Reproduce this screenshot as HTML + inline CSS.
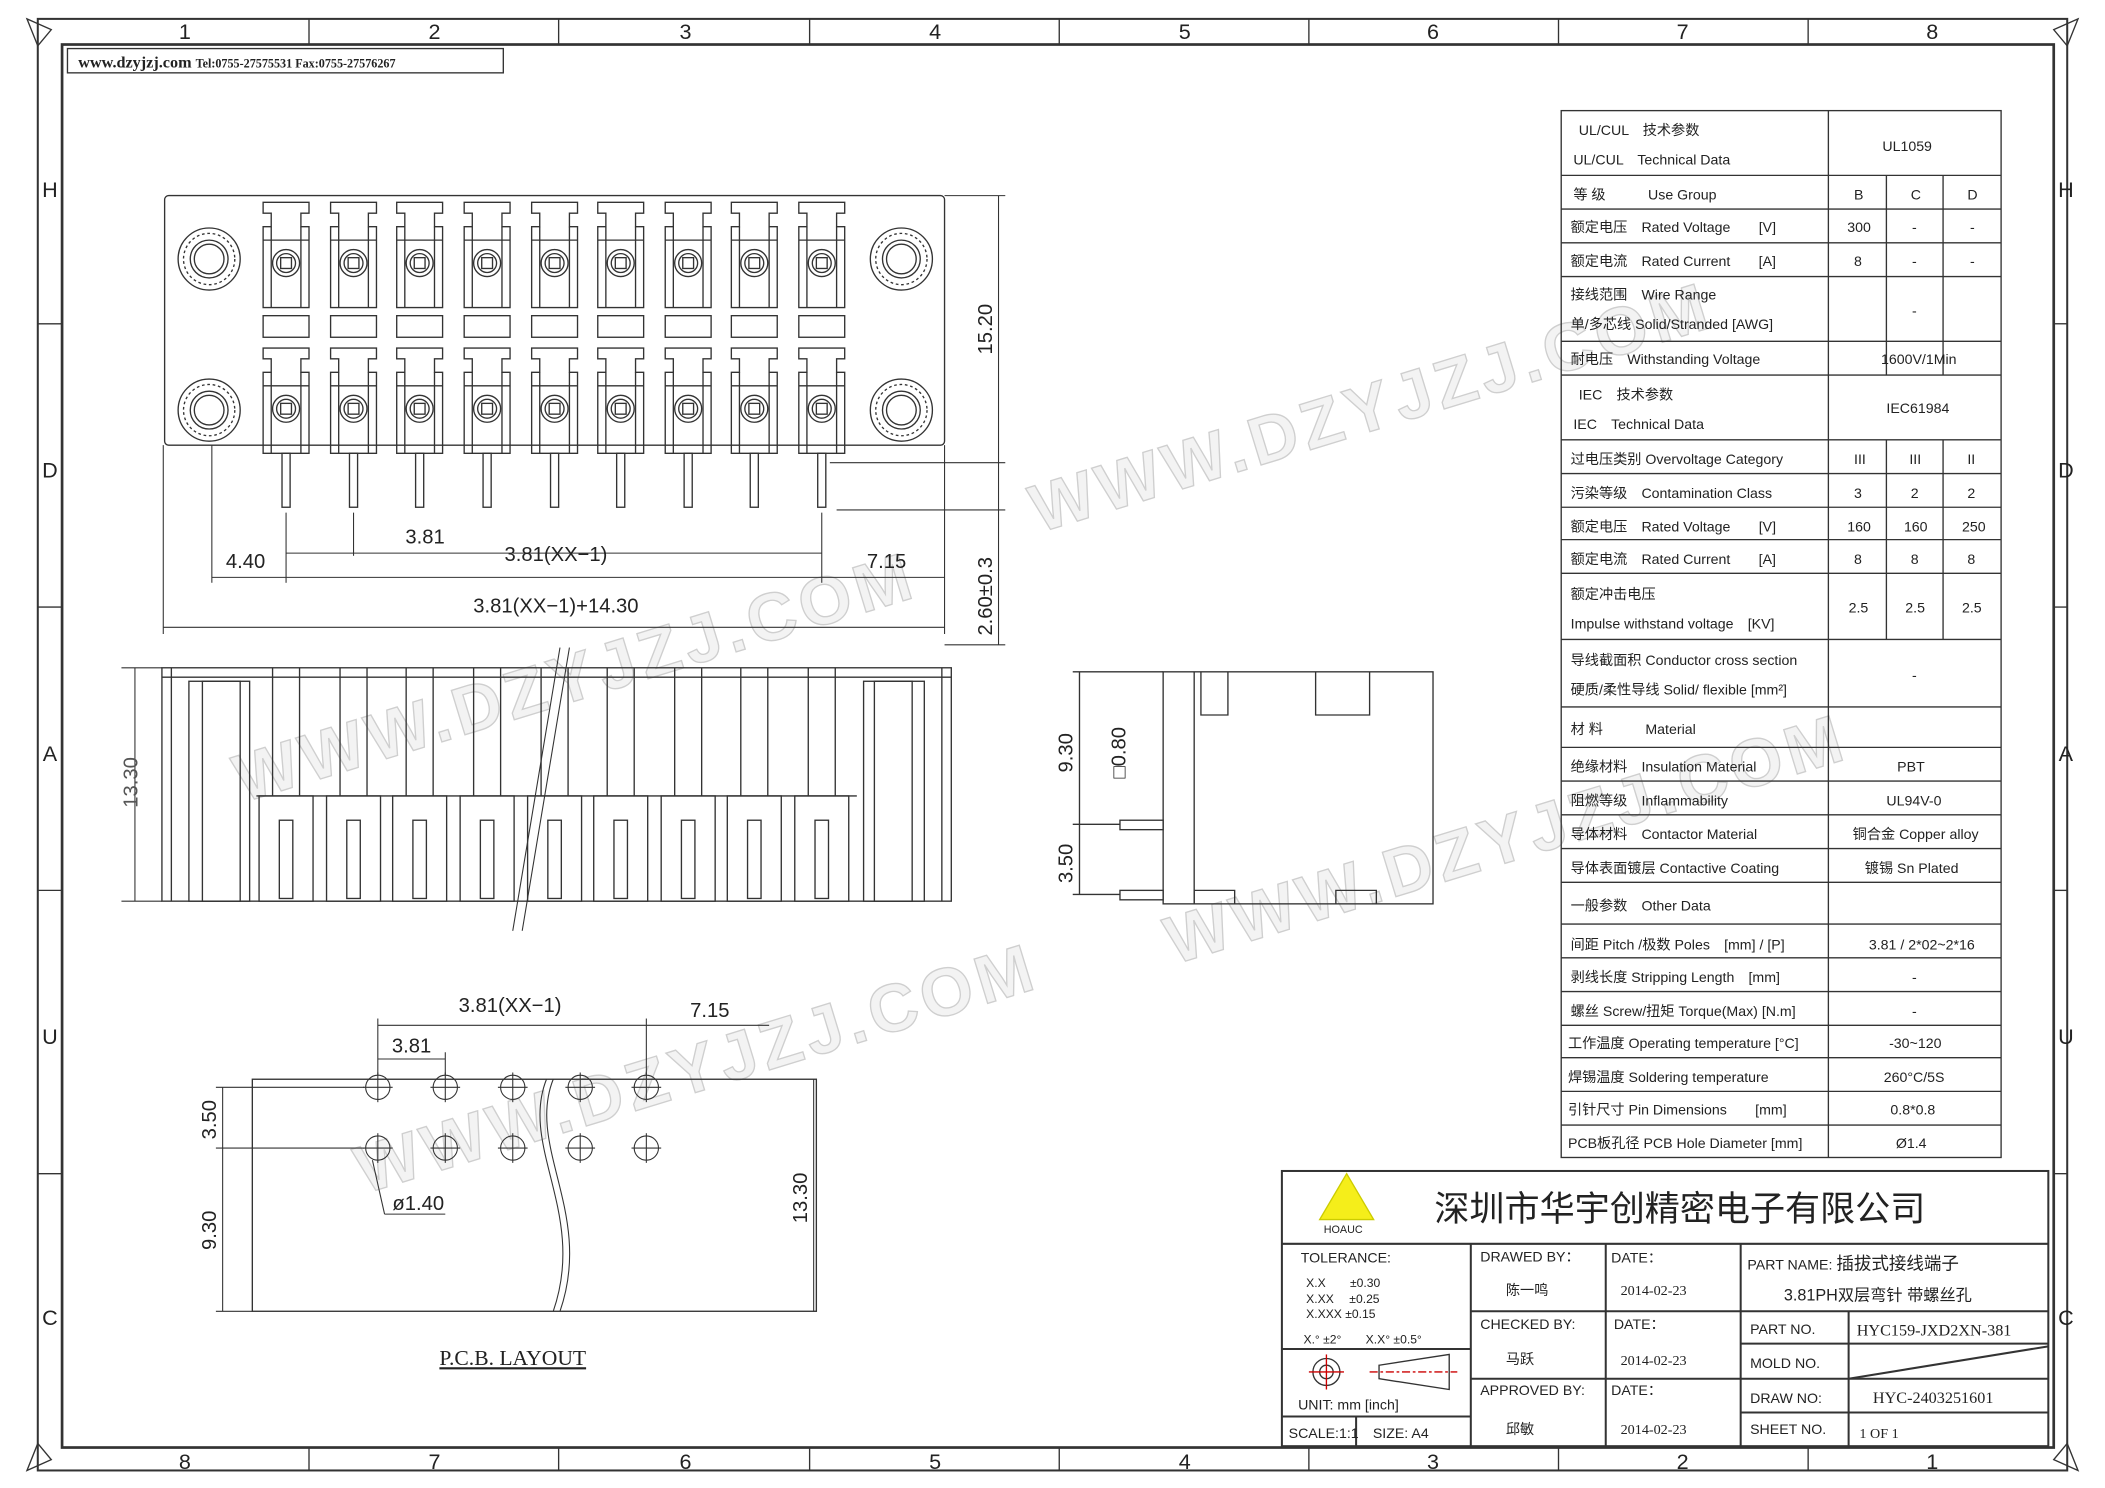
<!DOCTYPE html>
<html><head><meta charset="utf-8"><style>
html,body{margin:0;padding:0;background:#fff;}
svg{display:block;}
text{font-family:"Liberation Sans","Noto Sans CJK SC",sans-serif;fill:#222;}
.t{font-size:10.5px;}
.d{font-size:15px;fill:#555;}
text.wm{fill:#f3f3f3;stroke:#cfcfcf;stroke-width:1;font-size:50px;font-weight:bold;letter-spacing:4px;}
</style></head><body>
<svg width="2105" height="1488" viewBox="0 0 1560 1103" preserveAspectRatio="none" xmlns="http://www.w3.org/2000/svg">
<defs>
<g id="term" fill="none" stroke="#333" stroke-width="1">
  <path d="M-17,0 h34 v8 h-6 v10 h6 v60 h-34 v-60 h6 v-10 h-6z"/>
  <line x1="-11" y1="18" x2="-11" y2="78"/><line x1="11" y1="18" x2="11" y2="78"/>
  <circle cx="0" cy="45" r="10"/><circle cx="0" cy="45" r="7"/><rect x="-4" y="41" width="8" height="8"/>
  <line x1="-17" y1="28" x2="17" y2="28"/>
</g>
<g id="col">
  <use href="#term" y="150"/>
  <rect x="-17" y="234" width="34" height="16" fill="none" stroke="#333"/>
  <use href="#term" y="258"/>
  <rect x="-3" y="336" width="6" height="40" fill="none" stroke="#333"/>
</g>
<g id="fr" fill="none" stroke="#333">
  <rect x="-20" y="590" width="40" height="78"/>
  <rect x="-5" y="608" width="10" height="58"/>
  <line x1="-10" y1="495" x2="-10" y2="590"/><line x1="10" y1="495" x2="10" y2="590"/>
</g>
<g id="mh" fill="none" stroke="#333"><circle r="23"/><circle r="19" stroke-dasharray="2 2"/><circle r="14"/><circle r="11"/></g>
</defs>
<rect width="1560" height="1103" fill="#fff"/>
<!-- watermark -->
<text class="wm" transform="translate(770,395) rotate(-17)">WWW.DZYJZJ.COM</text>
<text class="wm" transform="translate(180,595) rotate(-17)">WWW.DZYJZJ.COM</text>
<text class="wm" transform="translate(870,715) rotate(-17)">WWW.DZYJZJ.COM</text>
<text class="wm" transform="translate(270,885) rotate(-17)">WWW.DZYJZJ.COM</text>
<!-- borders -->
<rect x="28" y="14" width="1504" height="1076" fill="none" stroke="#333" stroke-width="1.5"/>
<rect x="46" y="33" width="1476" height="1040" fill="none" stroke="#333" stroke-width="2"/>
<g stroke="#333">
<line x1="229" y1="14" x2="229" y2="33"/><line x1="414" y1="14" x2="414" y2="33"/><line x1="600" y1="14" x2="600" y2="33"/><line x1="785" y1="14" x2="785" y2="33"/><line x1="970" y1="14" x2="970" y2="33"/><line x1="1155" y1="14" x2="1155" y2="33"/><line x1="1340" y1="14" x2="1340" y2="33"/>
<line x1="229" y1="1073" x2="229" y2="1090"/><line x1="414" y1="1073" x2="414" y2="1090"/><line x1="600" y1="1073" x2="600" y2="1090"/><line x1="785" y1="1073" x2="785" y2="1090"/><line x1="970" y1="1073" x2="970" y2="1090"/><line x1="1155" y1="1073" x2="1155" y2="1090"/><line x1="1340" y1="1073" x2="1340" y2="1090"/>
<line x1="28" y1="240" x2="46" y2="240"/><line x1="28" y1="450" x2="46" y2="450"/><line x1="28" y1="660" x2="46" y2="660"/><line x1="28" y1="870" x2="46" y2="870"/>
<line x1="1522" y1="240" x2="1532" y2="240"/><line x1="1522" y1="450" x2="1532" y2="450"/><line x1="1522" y1="660" x2="1532" y2="660"/><line x1="1522" y1="870" x2="1532" y2="870"/>
</g>
<g fill="none" stroke="#333"><path d="M20,14 L38,22 L28,34z"/><path d="M1540,14 L1522,22 L1532,34z"/><path d="M20,1090 L38,1082 L28,1070z"/><path d="M1540,1090 L1522,1082 L1532,1070z"/></g>
<g font-size="16" text-anchor="middle">
<text x="137" y="29">1</text><text x="322" y="29">2</text><text x="508" y="29">3</text><text x="693" y="29">4</text><text x="878" y="29">5</text><text x="1062" y="29">6</text><text x="1247" y="29">7</text><text x="1432" y="29">8</text>
<text x="137" y="1089">8</text><text x="322" y="1089">7</text><text x="508" y="1089">6</text><text x="693" y="1089">5</text><text x="878" y="1089">4</text><text x="1062" y="1089">3</text><text x="1247" y="1089">2</text><text x="1432" y="1089">1</text>
<text x="37" y="146">H</text><text x="37" y="354">D</text><text x="37" y="564">A</text><text x="37" y="774">U</text><text x="37" y="982">C</text>
<text x="1531" y="146">H</text><text x="1531" y="354">D</text><text x="1531" y="564">A</text><text x="1531" y="774">U</text><text x="1531" y="982">C</text>
</g>
<rect x="50" y="36" width="323" height="18" fill="none" stroke="#333"/>
<text x="58" y="50" font-size="12" font-weight="bold" style="font-family:'Liberation Serif',serif">www.dzyjzj.com <tspan font-size="9">Tel:0755-27575531  Fax:0755-27576267</tspan></text>

<!-- top view -->
<rect x="122" y="145" width="578" height="185" rx="3" fill="none" stroke="#333"/>
<use href="#mh" x="155" y="192"/><use href="#mh" x="155" y="304"/><use href="#mh" x="668" y="192"/><use href="#mh" x="668" y="304"/>
<use href="#col" x="212"/><use href="#col" x="262"/><use href="#col" x="311"/><use href="#col" x="361"/><use href="#col" x="411"/><use href="#col" x="460"/><use href="#col" x="510"/><use href="#col" x="559"/><use href="#col" x="609"/>
<g stroke="#333" fill="none" stroke-width="0.8">
<line x1="700" y1="145" x2="745" y2="145"/><line x1="615" y1="343" x2="745" y2="343"/><line x1="620" y1="378" x2="745" y2="378"/><line x1="700" y1="478" x2="745" y2="478"/>
<line x1="740" y1="145" x2="740" y2="478"/>
<line x1="157" y1="330" x2="157" y2="432"/><line x1="212" y1="380" x2="212" y2="432"/><line x1="262" y1="380" x2="262" y2="412"/><line x1="609" y1="380" x2="609" y2="432"/><line x1="700" y1="330" x2="700" y2="470"/><line x1="121" y1="330" x2="121" y2="470"/>
<line x1="157" y1="428" x2="700" y2="428"/><line x1="212" y1="410" x2="609" y2="410"/><line x1="121" y1="465" x2="700" y2="465"/>
</g>
<g class="d" text-anchor="middle">
<text x="182" y="421">4.40</text><text x="315" y="403">3.81</text><text x="412" y="416">3.81(XX−1)</text><text x="657" y="421">7.15</text><text x="412" y="454">3.81(XX−1)+14.30</text>
<text transform="translate(735,244) rotate(-90)">15.20</text><text transform="translate(735,442) rotate(-90)">2.60±0.3</text>
</g>

<!-- front view -->
<rect x="120" y="495" width="585" height="173" fill="none" stroke="#333"/>
<g stroke="#333" fill="none">
<line x1="120" y1="502" x2="705" y2="502"/><line x1="127" y1="495" x2="127" y2="668"/><line x1="698" y1="495" x2="698" y2="668"/>
<rect x="140" y="505" width="45" height="163"/><rect x="150" y="505" width="28" height="163"/>
<rect x="640" y="505" width="45" height="163"/><rect x="648" y="505" width="28" height="163"/>
<line x1="190" y1="590" x2="635" y2="590"/>
</g>
<use href="#fr" x="212"/><use href="#fr" x="262"/><use href="#fr" x="311"/><use href="#fr" x="361"/><use href="#fr" x="411"/><use href="#fr" x="460"/><use href="#fr" x="510"/><use href="#fr" x="559"/><use href="#fr" x="609"/>
<g stroke="#333" stroke-width="0.8"><line x1="90" y1="495" x2="120" y2="495"/><line x1="90" y1="668" x2="120" y2="668"/><line x1="100" y1="495" x2="100" y2="668"/>
<line x1="380" y1="690" x2="415" y2="480"/><line x1="387" y1="690" x2="422" y2="480"/></g>
<text class="d" transform="translate(102,580) rotate(-90)" text-anchor="middle">13.30</text>

<!-- side view -->
<g stroke="#333" fill="none">
<rect x="862" y="498" width="200" height="172"/><line x1="885" y1="498" x2="885" y2="670"/>
<path d="M890,498 v32 h20 v-32"/><path d="M975,498 v32 h40 v-32"/>
<path d="M885,670 v-10 h30 v10"/><path d="M990,670 v-10 h30 v10"/>
<rect x="830" y="608" width="32" height="7"/><rect x="830" y="660" width="32" height="7"/>
<line x1="795" y1="498" x2="862" y2="498"/><line x1="795" y1="611" x2="830" y2="611"/><line x1="795" y1="663" x2="830" y2="663"/><line x1="800" y1="498" x2="800" y2="663"/>
</g>
<g class="d" text-anchor="middle"><text transform="translate(795,558) rotate(-90)">9.30</text><text transform="translate(795,640) rotate(-90)">3.50</text><text transform="translate(834,558) rotate(-90)">□0.80</text></g>

<!-- PCB layout -->
<rect x="187" y="800" width="418" height="172" fill="none" stroke="#333"/>
<g stroke="#333" fill="none" stroke-width="0.8">
<path d="M410,800 C390,850 440,900 415,972"/><path d="M405,800 C385,850 435,900 410,972"/>
<g id="h"><circle cx="280" cy="806" r="9"/><circle cx="280" cy="851" r="9"/><line x1="269" y1="806" x2="291" y2="806"/><line x1="280" y1="795" x2="280" y2="817"/><line x1="269" y1="851" x2="291" y2="851"/><line x1="280" y1="840" x2="280" y2="862"/></g>
<use href="#h" x="50"/><use href="#h" x="100"/><use href="#h" x="150"/><use href="#h" x="199"/>
<line x1="280" y1="755" x2="280" y2="797"/><line x1="330" y1="780" x2="330" y2="797"/><line x1="479" y1="755" x2="479" y2="797"/>
<line x1="280" y1="760" x2="570" y2="760"/><line x1="280" y1="785" x2="330" y2="785"/>
<line x1="160" y1="806" x2="270" y2="806"/><line x1="160" y1="851" x2="270" y2="851"/><line x1="160" y1="972" x2="187" y2="972"/><line x1="165" y1="806" x2="165" y2="972"/>
<line x1="603" y1="800" x2="603" y2="972"/>
<line x1="276" y1="860" x2="285" y2="900"/><line x1="285" y1="900" x2="330" y2="900"/>
</g>
<g class="d" text-anchor="middle">
<text x="378" y="750">3.81(XX−1)</text><text x="526" y="754">7.15</text><text x="305" y="780">3.81</text><text x="310" y="897">ø1.40</text>
<text transform="translate(160,830) rotate(-90)">3.50</text><text transform="translate(160,912) rotate(-90)">9.30</text><text transform="translate(598,888) rotate(-90)">13.30</text>
</g>
<text x="380" y="1012" text-anchor="middle" font-size="16" style="font-family:'Liberation Serif',serif" text-decoration="underline">P.C.B. LAYOUT</text>

<!-- spec table -->
<g stroke="#333" fill="none">
<rect x="1157" y="82" width="326" height="776"/>
<line x1="1355" y1="82" x2="1355" y2="858"/>
<path d="M1398,130 V278 M1440,130 V278 M1398,326 V474 M1440,326 V474"/>
<path d="M1157,130H1483 M1157,155H1483 M1157,180H1483 M1157,205H1483 M1157,253H1483 M1157,278H1483 M1157,326H1483 M1157,351H1483 M1157,376H1483 M1157,400H1483 M1157,425H1483 M1157,474H1483 M1157,524H1483 M1157,554H1483 M1157,579H1483 M1157,604H1483 M1157,629H1483 M1157,654H1483 M1157,685H1483 M1157,710H1483 M1157,735H1483 M1157,760H1483 M1157,784H1483 M1157,809H1483 M1157,834H1483"/>
</g>
<g class="t">
<text x="1170" y="100">UL/CUL　技术参数</text><text x="1166" y="122">UL/CUL　Technical Data</text><text x="1395" y="112">UL1059</text>
<text x="1166" y="148">等 级　　　Use Group</text><text x="1374" y="148">B</text><text x="1416" y="148">C</text><text x="1458" y="148">D</text>
<text x="1164" y="172">额定电压　Rated Voltage　　[V]</text><text x="1369" y="172">300</text><text x="1417" y="172">-</text><text x="1460" y="172">-</text>
<text x="1164" y="197">额定电流　Rated Current　　[A]</text><text x="1374" y="197">8</text><text x="1417" y="197">-</text><text x="1460" y="197">-</text>
<text x="1164" y="222">接线范围　Wire Range</text><text x="1164" y="244">单/多芯线 Solid/Stranded [AWG]</text><text x="1417" y="234">-</text>
<text x="1164" y="270">耐电压　Withstanding Voltage</text><text x="1394" y="270">1600V/1Min</text>
<text x="1170" y="296">IEC　技术参数</text><text x="1166" y="318">IEC　Technical Data</text><text x="1398" y="306">IEC61984</text>
<text x="1164" y="344">过电压类别 Overvoltage Category</text><text x="1374" y="344">III</text><text x="1415" y="344">III</text><text x="1458" y="344">II</text>
<text x="1164" y="369">污染等级　Contamination Class</text><text x="1374" y="369">3</text><text x="1416" y="369">2</text><text x="1458" y="369">2</text>
<text x="1164" y="394">额定电压　Rated Voltage　　[V]</text><text x="1369" y="394">160</text><text x="1411" y="394">160</text><text x="1454" y="394">250</text>
<text x="1164" y="418">额定电流　Rated Current　　[A]</text><text x="1374" y="418">8</text><text x="1416" y="418">8</text><text x="1458" y="418">8</text>
<text x="1164" y="444">额定冲击电压</text><text x="1164" y="466">Impulse withstand voltage　[KV]</text><text x="1370" y="454">2.5</text><text x="1412" y="454">2.5</text><text x="1454" y="454">2.5</text>
<text x="1164" y="493">导线截面积 Conductor cross section</text><text x="1164" y="515">硬质/柔性导线 Solid/ flexible [mm²]</text><text x="1417" y="504">-</text>
<text x="1164" y="544">材 料　　　Material</text>
<text x="1164" y="572">绝缘材料　Insulation Material</text><text x="1406" y="572">PBT</text>
<text x="1164" y="597">阻燃等级　Inflammability</text><text x="1398" y="597">UL94V-0</text>
<text x="1164" y="622">导体材料　Contactor Material</text><text x="1373" y="622">铜合金 Copper alloy</text>
<text x="1164" y="647">导体表面镀层 Contactive Coating</text><text x="1382" y="647">镀锡 Sn Plated</text>
<text x="1164" y="675">一般参数　Other Data</text>
<text x="1164" y="704">间距 Pitch /极数 Poles　[mm] / [P]</text><text x="1385" y="704">3.81 / 2*02~2*16</text>
<text x="1164" y="728">剥线长度 Stripping Length　[mm]</text><text x="1417" y="728">-</text>
<text x="1164" y="753">螺丝 Screw/扭矩 Torque(Max) [N.m]</text><text x="1417" y="753">-</text>
<text x="1162" y="777">工作温度 Operating temperature [°C]</text><text x="1400" y="777">-30~120</text>
<text x="1162" y="802">焊锡温度 Soldering temperature</text><text x="1396" y="802">260°C/5S</text>
<text x="1162" y="826">引针尺寸 Pin Dimensions　　[mm]</text><text x="1401" y="826">0.8*0.8</text>
<text x="1162" y="851">PCB板孔径 PCB Hole Diameter [mm]</text><text x="1405" y="851">Ø1.4</text>
</g>

<!-- title block -->
<g stroke="#333" fill="none" stroke-width="1.5">
<rect x="950" y="868" width="568" height="204"/>
<line x1="950" y1="922" x2="1518" y2="922"/>
<line x1="1090" y1="922" x2="1090" y2="1072"/><line x1="1190" y1="922" x2="1190" y2="1072"/><line x1="1290" y1="922" x2="1290" y2="1072"/>
<line x1="1090" y1="972" x2="1290" y2="972"/><line x1="1090" y1="1022" x2="1290" y2="1022"/>
<line x1="1290" y1="972" x2="1518" y2="972"/><line x1="1290" y1="996" x2="1518" y2="996"/><line x1="1290" y1="1022" x2="1518" y2="1022"/><line x1="1290" y1="1047" x2="1518" y2="1047"/>
<line x1="1370" y1="972" x2="1370" y2="1072"/><line x1="1370" y1="1022" x2="1518" y2="998"/>
<line x1="950" y1="1000" x2="1090" y2="1000"/><line x1="950" y1="1050" x2="1090" y2="1050"/><line x1="1005" y1="1050" x2="1005" y2="1072"/>
</g>
<path d="M998,870 L1018,904 L978,904z" fill="#f5ee1a" stroke="#cc0"/>
<text x="981" y="914" font-size="8">HOAUC</text>
<text x="1063" y="905" font-size="26" style="font-family:'Noto Sans CJK SC',sans-serif">深圳市华宇创精密电子有限公司</text>
<g font-size="10.5">
<text x="964" y="936">TOLERANCE:</text><text x="968" y="954" font-size="9">X.X　　±0.30</text><text x="968" y="966" font-size="9">X.XX　 ±0.25</text><text x="968" y="977" font-size="9">X.XXX ±0.15</text>
<text x="966" y="996" font-size="9">X.°  ±2°　　X.X° ±0.5°</text>
<text x="962" y="1045">UNIT:  mm  [inch]</text><text x="955" y="1066">SCALE:1:1　SIZE: A4</text>
<text x="1097" y="935">DRAWED  BY：</text><text x="1194" y="936">DATE：</text>
<text x="1097" y="985">CHECKED  BY:</text><text x="1196" y="985">DATE：</text>
<text x="1097" y="1034">APPROVED BY:</text><text x="1194" y="1034">DATE：</text>
<text x="1116" y="960" fill="#444">陈一鸣</text><text x="1116" y="1011" fill="#444">马跃</text><text x="1116" y="1063" fill="#444">邱敏</text>
<text x="1201" y="960" style="font-family:'Liberation Serif',serif">2014-02-23</text><text x="1201" y="1012" style="font-family:'Liberation Serif',serif">2014-02-23</text><text x="1201" y="1063" style="font-family:'Liberation Serif',serif">2014-02-23</text>
<text x="1295" y="941">PART NAME: <tspan font-size="13">插拔式接线端子</tspan></text>
<text x="1322" y="964" font-size="12">3.81PH双层弯针 带螺丝孔</text>
<text x="1297" y="989">PART  NO.</text><text x="1376" y="990" font-size="12" style="font-family:'Liberation Serif',serif">HYC159-JXD2XN-381</text>
<text x="1297" y="1014">MOLD  NO.</text>
<text x="1297" y="1040">DRAW  NO:</text><text x="1388" y="1040" font-size="12" style="font-family:'Liberation Serif',serif">HYC-2403251601</text>
<text x="1297" y="1063">SHEET  NO.</text><text x="1378" y="1066" style="font-family:'Liberation Serif',serif">1 OF 1</text>
</g>
<g stroke="#c00" fill="none"><circle cx="983" cy="1017" r="10" stroke="#333"/><circle cx="983" cy="1017" r="5" stroke="#333"/><line x1="970" y1="1017" x2="996" y2="1017"/><line x1="983" y1="1004" x2="983" y2="1030"/>
<path d="M1022,1012 L1074,1004 V1030 L1022,1022z" stroke="#333"/><line x1="1015" y1="1017" x2="1080" y2="1017" stroke-dasharray="6 2 2 2"/></g>
</svg>
</body></html>
